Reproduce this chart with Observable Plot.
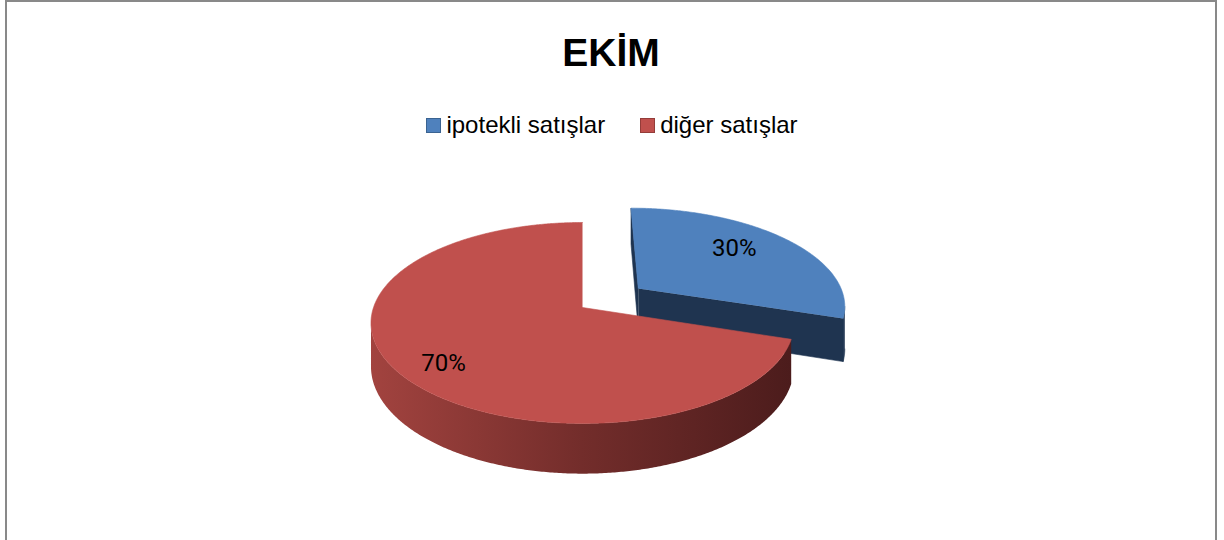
<!DOCTYPE html>
<html>
<head>
<meta charset="utf-8">
<script src="https://cdn.jsdelivr.net/npm/d3@7"></script>
<script src="https://cdn.jsdelivr.net/npm/@observablehq/plot@0.6"></script>
<style>
  html, body { margin: 0; padding: 0; width: 1224px; height: 540px; overflow: hidden; background: #fff; }
  body { position: relative; font-family: "Liberation Sans", Arial, sans-serif; }
  #frame { position: absolute; left: 5px; top: 0; width: 1212px; height: 600px; box-sizing: border-box;
           border: 2px solid #898989; border-bottom: none; pointer-events: none; }
  #title { position: absolute; left: 0; top: 33px; width: 1222px; text-align: center;
           font-size: 39px; line-height: 39px; font-weight: bold; color: #000; }
  #legend { position: absolute; left: 0; top: 113px; width: 1224px; display: flex; justify-content: center;
            align-items: center; font-size: 24px; line-height: 24px; color: #000; }
  .item { display: flex; align-items: center; }
  .item + .item { margin-left: 35px; }
  .sw { width: 13px; height: 13px; margin-right: 5px; margin-top: 1px; border: 1px solid; }
  #chart { position: absolute; left: 0; top: 160px; }
</style>
</head>
<body>
<div id="title"></div>
<div id="legend"></div>
<div id="chart"></div>
<div id="frame"></div>
<script>
// ---- data ----
const chartTitle = "EKİM";
const categories = ["ipotekli satışlar", "diğer satışlar"];
const shares = [30, 70];              // percent
const topColors = ["#4F81BD", "#C0504D"];
const sideColors = ["#1F3450", "#4F1E1E"];
const swatchBorders = ["#3A6391", "#943C39"];
const explodeAmount = [0.34, 0];     // fraction of radius

// ---- header (title + legend) ----
document.getElementById("title").textContent = chartTitle;
const legend = d3.select("#legend");
categories.forEach((c, i) => {
  const it = legend.append("div").attr("class", "item");
  it.append("div").attr("class", "sw").style("background", topColors[i]).style("border-color", swatchBorders[i]);
  it.append("span").text(c);
});

// ---- 3D pie geometry (perspective-tilted disc) ----
const k = 0.154;     // perspective foreshortening
const D = 0.433;     // thickness (in radius units)
const total = d3.sum(shares);
const step = Math.PI / 360;
function proj(u, v, h) { const w = 1 + k * v; return {x: u / w, y: (-v + h * D) / w}; }

let acc = 0;
const slices = shares.map((s, i) => {
  const a0 = acc / total * 2 * Math.PI; acc += s;
  const a1 = acc / total * 2 * Math.PI;
  const mid = (a0 + a1) / 2;
  return {i, a0, a1, mid, ou: explodeAmount[i] * Math.sin(mid), ov: explodeAmount[i] * Math.cos(mid)};
});

function angles(a0, a1) {
  const n = Math.max(2, Math.ceil((a1 - a0) / step));
  return d3.range(n + 1).map(j => a0 + (a1 - a0) * j / n);
}
function pt(s, t, h) { return proj(s.ou + Math.sin(t), s.ov + Math.cos(t), h); }
function apex(s, h) { return proj(s.ou, s.ov, h); }

function topFace(s) {
  return [apex(s, 0), ...angles(s.a0, s.a1).map(t => pt(s, t, 0))].map(p => ({...p, face: "top" + s.i}));
}
// front-facing outer wall: where the top arc's x decreases with angle
function wallFace(s) {
  const ts = angles(s.a0, s.a1).filter(t => {
    const e = 1e-4; return pt(s, t + e, 0).x - pt(s, t - e, 0).x < 0;
  });
  if (ts.length < 2) return [];
  const top = ts.map(t => pt(s, t, 0));
  const bot = ts.slice().reverse().map(t => pt(s, t, 1));
  return [...top, ...bot].map(p => ({...p, face: "wall" + s.i}));
}
function radialFace(s, t, name) {
  return [apex(s, 0), pt(s, t, 0), pt(s, t, 1), apex(s, 1)].map(p => ({...p, face: name + s.i}));
}

const blue = slices[0], red = slices[1];
const blueSides = [...radialFace(blue, blue.a0, "r0"), ...radialFace(blue, blue.a1, "r1"), ...wallFace(blue)];
const blueTop = topFace(blue);
const redWall = wallFace(red);
const redTop = topFace(red);

const labelR = 0.75;
const labels = slices.map(s => {
  const p = proj(s.ou + labelR * Math.sin(s.mid), s.ov + labelR * Math.cos(s.mid), 0);
  return {...p, text: Math.round(shares[s.i] / total * 100) + "%", i: s.i};
});

const plot = Plot.plot({
  width: 1224,
  height: 380,
  margin: 0,
  style: {background: "transparent", fontFamily: "Roboto, Liberation Sans, Arial, sans-serif"},
  x: {domain: [-1, 1], range: [373, 791], axis: null},
  y: {domain: [-1, 1], range: [48.9, 245.1], axis: null},
  marks: [
    Plot.line(blueSides, {x: "x", y: "y", z: "face", fill: sideColors[0], stroke: sideColors[0], strokeWidth: 0.6, curve: "linear"}),
    Plot.line(blueTop, {x: "x", y: "y", z: "face", fill: topColors[0], stroke: topColors[0], strokeWidth: 0.6, curve: "linear"}),
    Plot.line(redWall, {x: "x", y: "y", z: "face", fill: "url(#redWallGrad)", stroke: "none", curve: "linear"}),
    Plot.line(redTop, {x: "x", y: "y", z: "face", fill: topColors[1], stroke: topColors[1], strokeWidth: 0.6, curve: "linear"}),
    Plot.text(labels.filter(d => d.i === 0), {x: "x", y: "y", text: "text", fontSize: 24, fill: "#000", dx: -16, dy: -2}),
    Plot.text(labels.filter(d => d.i === 1), {x: "x", y: "y", text: "text", fontSize: 24, fill: "#000", dx: -3, dy: 9})
  ]
});

const defs = d3.select(plot).insert("defs", ":first-child");
const g = defs.append("linearGradient").attr("id", "redWallGrad").attr("x1", 0).attr("x2", 1).attr("y1", 0).attr("y2", 0);
g.append("stop").attr("offset", "0%").attr("stop-color", "#A2433F");
g.append("stop").attr("offset", "50%").attr("stop-color", "#732D2B");
g.append("stop").attr("offset", "100%").attr("stop-color", "#4C1C1C");

document.getElementById("chart").appendChild(plot);
</script>
</body>
</html>
